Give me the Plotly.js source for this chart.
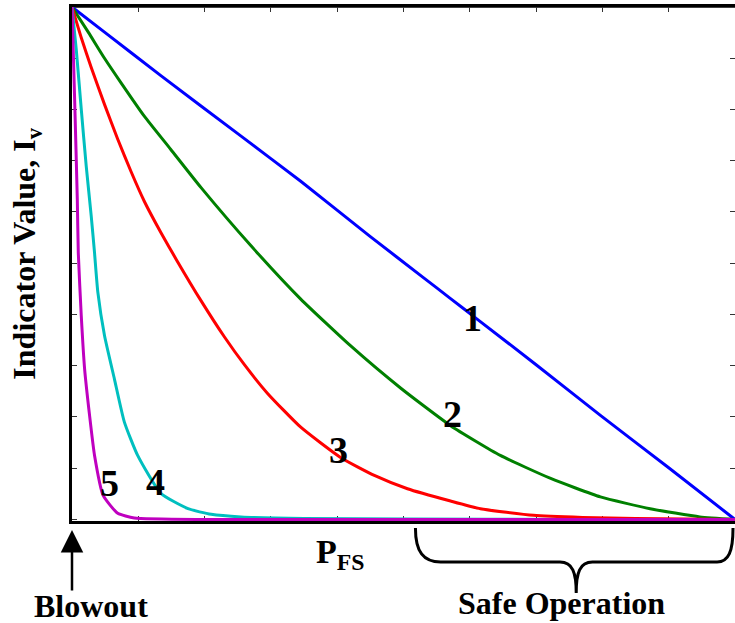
<!DOCTYPE html>
<html>
<head>
<meta charset="utf-8">
<script src="https://cdn.plot.ly/plotly-3.0.1.min.js"></script>
<style>html,body{margin:0;padding:0;background:#fff;}#chart{width:735px;height:623px;}</style>
</head>
<body>
<div id="chart"></div>
<script>
// Curve 1 (blue)
var x1 = [0, 0.05, 0.134, 0.255, 0.345, 0.45, 0.53, 0.571, 0.611, 0.7, 0.797, 0.9, 1];
var y1 = [1, 0.950, 0.866, 0.748, 0.660, 0.552, 0.472, 0.431, 0.391, 0.302, 0.203, 0.101, 0.0];
// Curve 2 (green)
var x2 = [0, 0.025, 0.049, 0.074, 0.109, 0.149, 0.195, 0.27, 0.345, 0.42, 0.496, 0.571, 0.646, 0.722, 0.797, 0.872, 0.947, 1];
var y2 = [1, 0.95, 0.900, 0.852, 0.787, 0.722, 0.647, 0.534, 0.430, 0.339, 0.256, 0.183, 0.125, 0.080, 0.044, 0.021, 0.005, 0.0];
// Curve 3 (red)
var x3 = [0, 0.014, 0.029, 0.049, 0.069, 0.089, 0.109, 0.134, 0.157, 0.195, 0.230, 0.260, 0.295, 0.345, 0.405, 0.456, 0.506, 0.571, 0.616, 0.696, 0.77, 0.85, 1];
var y3 = [1, 0.940, 0.882, 0.810, 0.742, 0.679, 0.621, 0.560, 0.508, 0.426, 0.356, 0.302, 0.246, 0.180, 0.121, 0.086, 0.060, 0.036, 0.021, 0.008, 0.004, 0.002, 0.0];
// Curve 4 (cyan)
var x4 = [0, 0.0065, 0.014, 0.0215, 0.029, 0.034, 0.039, 0.049, 0.064, 0.079, 0.099, 0.134, 0.175, 0.21, 0.255, 0.35, 0.5, 0.75, 1];
var y4 = [1, 0.916, 0.800, 0.689, 0.592, 0.520, 0.443, 0.359, 0.274, 0.190, 0.125, 0.051, 0.021, 0.010, 0.005, 0.002, 0.001, 0, 0];
// Curve 5 (magenta)
var x5 = [0, 0.004, 0.008, 0.0095, 0.014, 0.019, 0.0265, 0.034, 0.047, 0.069, 0.094, 0.2, 0.5, 0.75, 1];
var y5 = [1, 0.819, 0.625, 0.52, 0.397, 0.294, 0.203, 0.125, 0.047, 0.012, 0.003, 0, 0, 0, 0];

var curveLabels = ["1", "2", "3", "4", "5"];
var colors = ["#0000ff", "#008000", "#ff0000", "#00bfbf", "#bf00bf"];

var xs = [x1, x2, x3, x4, x5];
var ys = [y1, y2, y3, y4, y5];
var traces = xs.map(function (x, i) {
  return {x: x, y: ys[i], type: "scatter", mode: "lines", name: curveLabels[i],
          line: {color: colors[i], width: 3, shape: "spline", smoothing: 0.5},
          hoverinfo: "skip", cliponaxis: false};
});

var serif = "Liberation Serif, Times New Roman, serif";
// label positions (paper coords)
var labPos = [[0.604, 0.395], [0.574, 0.208], [0.402, 0.138], [0.1265, 0.076], [0.057, 0.074]];
var annotations = curveLabels.map(function (t, i) {
  return {text: "<b>" + t + "</b>", xref: "paper", yref: "paper", x: labPos[i][0], y: labPos[i][1],
          xanchor: "center", yanchor: "middle", showarrow: false, font: {family: serif, size: 38, color: "#000"}};
});
annotations.push({text: "<b>Indicator Value, I<sub>v</sub></b>", xref: "paper", yref: "paper",
  x: -0.068, y: 0.52, xanchor: "center", yanchor: "middle", textangle: -90, showarrow: false,
  font: {family: serif, size: 32, color: "#000"}});
annotations.push({text: "<b>P<sub>FS</sub></b>", xref: "paper", yref: "paper",
  x: 0.405, y: -0.065, xanchor: "center", yanchor: "middle", showarrow: false,
  font: {family: serif, size: 34, color: "#000"}});
annotations.push({text: "<b>Blowout</b>", xref: "paper", yref: "paper",
  x: 0.0286, y: -0.165, xanchor: "center", yanchor: "middle", showarrow: false,
  font: {family: serif, size: 32, color: "#000"}});
annotations.push({text: "<b>Safe Operation</b>", xref: "paper", yref: "paper",
  x: 0.738, y: -0.16, xanchor: "center", yanchor: "middle", showarrow: false,
  font: {family: serif, size: 32, color: "#000"}});
annotations.push({text: "", xref: "paper", yref: "paper", x: 0, y: -0.0175,
  showarrow: true, arrowhead: 2, arrowsize: 1.8, arrowwidth: 2.5, arrowcolor: "#000",
  ax: 0, ay: 62, standoff: 0});

var brace = "M 0.518,-0.0136 C 0.518,-0.06 0.53,-0.0798 0.556,-0.0798 L 0.736,-0.0798 " +
  "C 0.755,-0.0798 0.7605,-0.10 0.7605,-0.140 C 0.7605,-0.10 0.766,-0.0798 0.785,-0.0798 " +
  "L 0.973,-0.0798 C 0.99,-0.0798 0.997,-0.06 0.997,-0.0136";

var layout = {
  width: 735, height: 623,
  margin: {l: 72, r: 0, t: 7, b: 102},
  paper_bgcolor: "#fff", plot_bgcolor: "#fff",
  showlegend: false,
  xaxis: {range: [0, 1], showgrid: false, zeroline: false, showline: true, linecolor: "#000", linewidth: 3,
          mirror: "ticks", ticks: "inside", ticklen: 5, tickwidth: 1, tickcolor: "#333",
          tick0: 0, dtick: 0.1, showticklabels: false, layer: "below traces"},
  yaxis: {range: [-0.003, 1], showgrid: false, zeroline: false, showline: true, linecolor: "#000", linewidth: 3,
          mirror: "ticks", ticks: "inside", ticklen: 5, tickwidth: 1, tickcolor: "#333",
          tick0: 0, dtick: 0.1, showticklabels: false, layer: "below traces"},
  shapes: [
    {type: "line", xref: "paper", yref: "paper", x0: 0, x1: 1, y0: 1, y1: 1, line: {color: "#000", width: 1.5}, layer: "below"},
    {type: "path", xref: "paper", yref: "paper", path: brace, line: {color: "#000", width: 3}}
  ],
  annotations: annotations
};

Plotly.newPlot("chart", traces, layout, {displayModeBar: false, staticPlot: true});
</script>
</body>
</html>
